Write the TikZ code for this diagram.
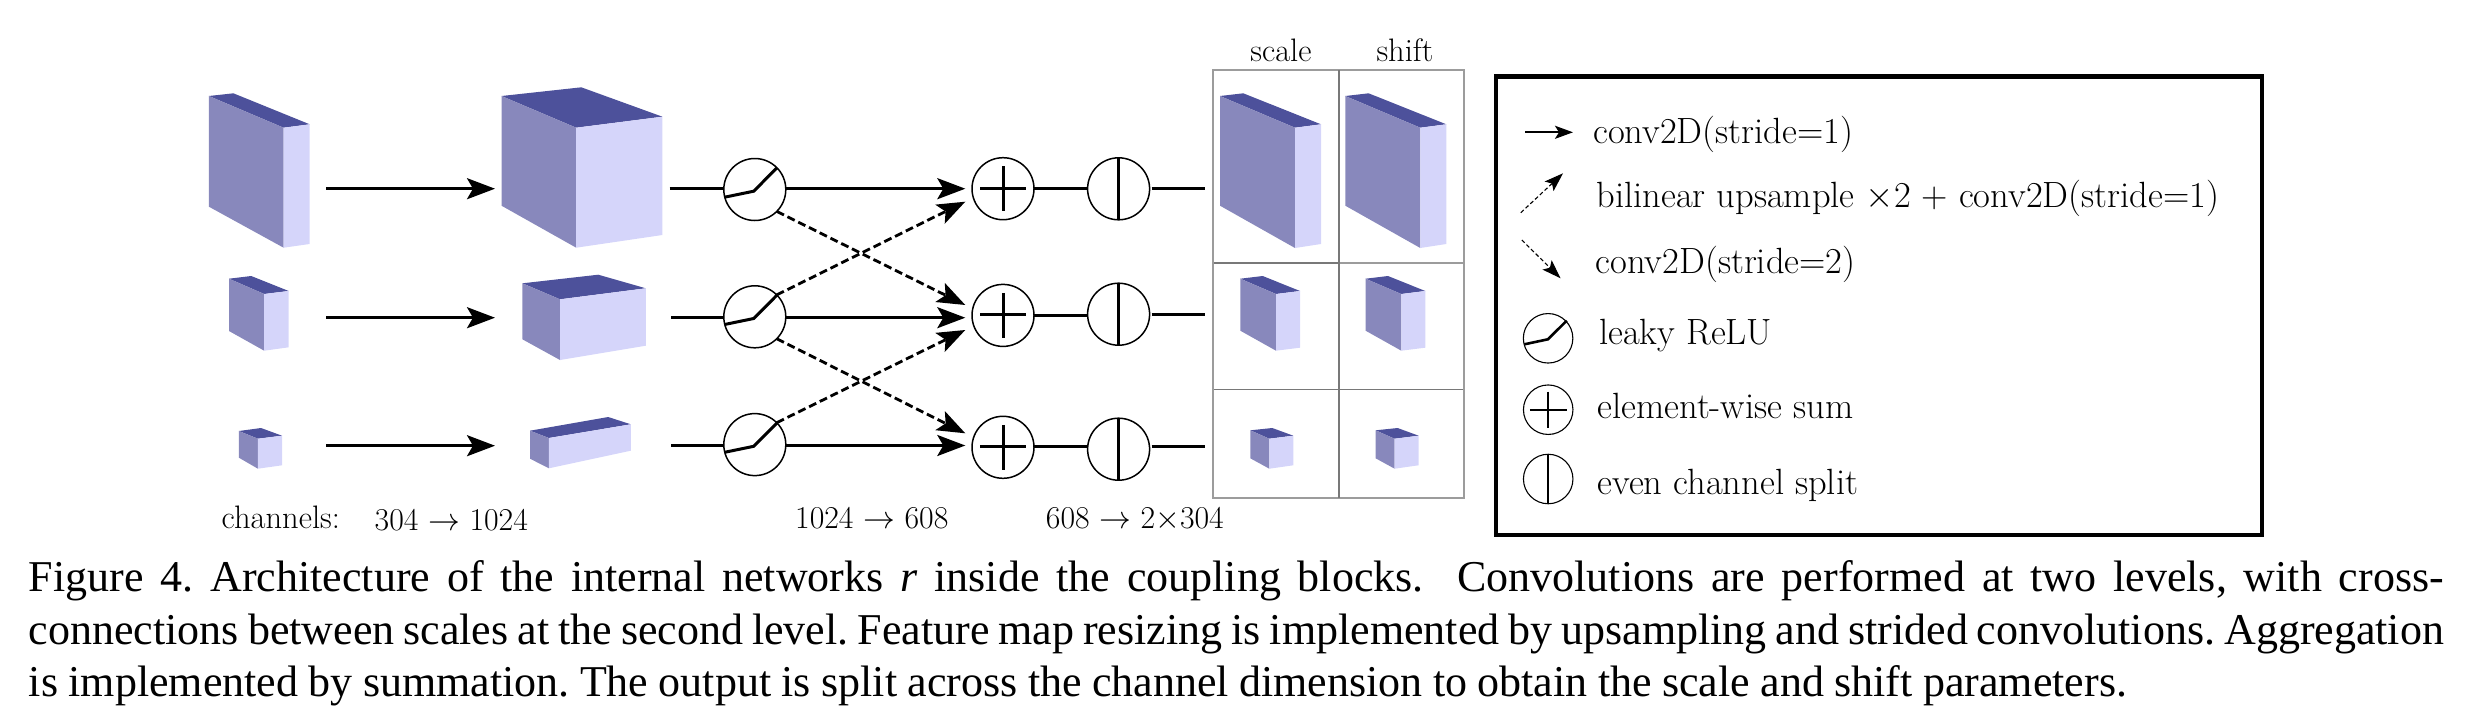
\RequirePackage{fix-cm}
\documentclass[tikz,border=0pt]{standalone}
\usepackage[no-math]{fontspec}
\usetikzlibrary{arrows.meta}
\newfontfamily\capfont{Liberation Serif}
\definecolor{cubeleft}{HTML}{8888BC}
\definecolor{cuberight}{HTML}{D5D5FA}
\definecolor{cubetop}{HTML}{4D519B}
\definecolor{gridcol}{HTML}{9C9C9C}
\definecolor{griddark}{HTML}{787878}
% A, D, C, B (top face), Abot, Bbot, Cbot
\newcommand{\cuboid}[7]{%
  \fill[cubetop] (#1) -- (#2) -- (#3) -- (#4) -- cycle;
  \fill[cubeleft] (#1) -- (#4) -- (#6) -- (#5) -- cycle;
  \fill[cuberight] (#4) -- (#3) -- (#7) -- (#6) -- cycle;
}
\newcommand{\leakyglyph}[1]{%
  \draw[glyph] ([shift={(-30.2,7.7)}]#1.center) -- ([shift={(-1.1,1.7)}]#1.center) -- ([shift={(22.2,-21.7)}]#1.center);
}
\newcommand{\plusglyph}[1]{%
  \draw[glyph] ([shift={(-22.6,-.5)}]#1.center) -- ([shift={(22.6,-.5)}]#1.center);
  \draw[glyph] ([shift={(0,-22.5)}]#1.center) -- ([shift={(0,22.5)}]#1.center);
}
\tikzset{
  opcircle/.style={circle,draw=black,line width=1.5pt,minimum size=62pt,inner sep=0pt,outer sep=0pt,fill=white},
  smallop/.style={opcircle,line width=1.1pt,minimum size=49.5pt},
  glyph/.style={line width=3pt,line join=miter},
  arr/.style={line width=2.8pt,-{Stealth[length=28pt,width=21pt,inset=6pt]}},
  darr/.style={arr,dash pattern=on 8pt off 4pt},
  plain/.style={line width=2.8pt},
  lab/.style={anchor=base west,inner sep=0pt,font=\fontsize{32.5}{38}\selectfont},
  numlab/.style={anchor=base west,inner sep=0pt,font=\fontsize{31.8}{38}\selectfont},
  leg/.style={anchor=base west,inner sep=0pt,font=\fontsize{36.5}{44}\selectfont},
  capline/.style={anchor=base west,inner sep=0pt,font=\capfont\fontsize{44}{52}\selectfont\frenchspacing},
  legarr/.style={line width=2pt,-{Stealth[length=18pt,width=13pt,inset=4pt]}},
  legdarr/.style={line width=1.1pt,dash pattern=on 4pt off 2.5pt,-{Stealth[length=19pt,width=13pt,inset=4pt]}},
}
\begin{document}
\begin{tikzpicture}[x=1pt,y=-1pt]
\useasboundingbox (0,0) rectangle (2482,726);

% --- input and hidden cuboids
\cuboid{208.9,96}{233.4,93.3}{309.7,124.3}{283.6,127.7}{208.9,206.7}{283.6,247.7}{309.7,244}
\cuboid{229,278.7}{251.2,276}{288.7,291}{264.2,294}{229,331}{264.2,350.7}{288.7,347.3}
\cuboid{238.9,431}{261,428}{282,435.7}{257.9,438.7}{238.9,457.7}{257.9,468.7}{282,465.3}
\cuboid{501.5,96}{581.3,87.3}{662.4,116.7}{576.2,127.7}{501.5,205.7}{576.2,247.7}{662.4,235}
\cuboid{522.4,283.3}{598.3,274.7}{645.8,288.3}{560,299.3}{522.4,339.3}{560,360}{645.8,345.7}
\cuboid{530,430.7}{608.2,417}{630.8,424.3}{548.9,438}{530,458.7}{548.9,468.3}{630.8,450.7}

% --- first-level arrows
\coordinate (a1s) at (326,188.7); \coordinate (a1e) at (495,188.7);
\coordinate (a2s) at (326,317.7); \coordinate (a2e) at (495,317.7);
\coordinate (a3s) at (326,445.7); \coordinate (a3e) at (495,445.7);
\draw[arr] (a1s) -- (a1e);
\draw[arr] (a2s) -- (a2e);
\draw[arr] (a3s) -- (a3e);

% --- operators
\node[opcircle] (relu1) at (754.8,189.5) {};
\node[opcircle] (relu2) at (754.8,316.8) {};
\node[opcircle] (relu3) at (754.8,444.6) {};
\node[opcircle] (sum1) at (1003,188.7) {};
\node[opcircle] (sum2) at (1003,315.4) {};
\node[opcircle] (sum3) at (1003,447.3) {};
\node[opcircle] (split1) at (1118.6,188.8) {};
\node[opcircle] (split2) at (1118.6,314.2) {};
\node[opcircle] (split3) at (1118.6,449.2) {};

\coordinate (in1) at (669.5,188.7);
\coordinate (in2) at (671,317.7);
\coordinate (in3) at (671,445.7);
\draw[plain] (in1) -- (in1 -| relu1.west);
\draw[plain] (in2) -- (in2 -| relu2.west);
\draw[plain] (in3) -- (in3 -| relu3.west);

% --- arrow tips in front of the sums
\coordinate (t1s) at (965.3,188.7);
\coordinate (t2s) at (965.3,317.7);
\coordinate (t3s) at (965.3,445.5);
\coordinate (t1u) at (965.3,201.7);
\coordinate (t2d) at (965.3,305);
\coordinate (t2u) at (965.3,330);
\coordinate (t3d) at (965.3,433.3);
\draw[arr] (t1s -| relu1.east) -- (t1s);
\draw[arr] (t2s -| relu2.east) -- (t2s);
\draw[arr] (t3s -| relu3.east) -- (t3s);
\draw[darr] (relu1.-45) -- (t2d);
\draw[darr] (relu2.45) -- (t1u);
\draw[darr] (relu2.-45) -- (t3d);
\draw[darr] (relu3.45) -- (t2u);

\leakyglyph{relu1}
\leakyglyph{relu2}
\leakyglyph{relu3}
\plusglyph{sum1}
\plusglyph{sum2}
\plusglyph{sum3}
\draw[glyph] (split1.north) -- (split1.south);
\draw[glyph] (split2.north) -- (split2.south);
\draw[glyph] (split3.north) -- (split3.south);

\draw[plain] (sum1.east) -- (sum1.east -| split1.west);
\draw[plain] (sum2.east) -- (sum2.east -| split2.west);
\coordinate (m3) at (sum3.east |- 0,446.7);
\draw[plain] (m3) -- (m3 -| split3.west);
\coordinate (o1) at (1205,188.7);
\coordinate (o2) at (1205,314.2);
\coordinate (o3) at (1205,446.7);
\draw[plain,shorten <=2pt] (o1 -| split1.east) -- (o1);
\draw[plain,shorten <=2pt] (o2 -| split2.east) -- (o2);
\draw[plain,shorten <=2pt] (o3 -| split3.east) -- (o3);

% --- output grid
\draw[griddark,line width=1.6pt] (1213.3,263) -- (1339,263);
\draw[griddark,line width=1.3pt] (1213.3,389.7) -- (1339,389.7);
\draw[gridcol,line width=1.4pt] (1339,263) -- (1464.3,263);
\draw[griddark,line width=1.2pt] (1339,389.7) -- (1464.3,389.7);
\draw[gridcol,line width=1.9pt] (1213.3,70) rectangle (1464.3,498);
\draw[griddark,line width=1.9pt] (1339,70) -- (1339,498);

\node[lab,anchor=base] (lscale) at (1281,61.7) {scale};
\node[lab,anchor=base] (lshift) at (1405,61.7) {shift};

\foreach \dx in {0,125.3}{
\begin{scope}[xshift=\dx pt]
\cuboid{1220,96}{1243.3,93.3}{1321,124.3}{1295,127.7}{1220,205.7}{1295,248}{1321,244}
\cuboid{1240.3,278.7}{1262.7,276}{1300,291}{1276,294}{1240.3,330.7}{1276,350.7}{1300,347.7}
\cuboid{1250.3,430.3}{1272.3,428}{1293.3,435.7}{1269.3,438.7}{1250.3,458.3}{1269.3,468.7}{1293.3,465.3}
\end{scope}
}

% --- channel labels
\node[lab] (lchan) at (221.5,528.3) {channels:};
\node[numlab] (lch1) at (374.5,530) {304 $\rightarrow$ 1024};
\node[numlab] (lch2) at (795,528) {1024 $\rightarrow$ 608};
\node[numlab] (lch3) at (1045.7,528) {608 $\rightarrow$ 2$\times$304};

% --- legend
\node[draw=black,line width=4.2pt,minimum width=766pt,minimum height=458.5pt,anchor=north west,inner sep=0pt,outer sep=0pt] (legbox) at (1496.3,76.4) {};
\coordinate (l1s) at (1525,132.3); \coordinate (l1e) at (1573,132.3);
\coordinate (l2s) at (1520.8,212.7); \coordinate (l2e) at (1563,173.3);
\coordinate (l3s) at (1521.8,240); \coordinate (l3e) at (1560.6,278.3);
\draw[legarr] (l1s) -- (l1e);
\draw[legdarr] (l2s) -- (l2e);
\draw[legdarr] (l3s) -- (l3e);
\node[leg] (t1) at (1593,143.5) {conv2D(stride=1)};
\node[leg] (t2) at (1596.3,207.2) {bilinear upsample $\times$2 + conv2D(stride=1)};
\node[leg] (t3) at (1595.3,273.5) {conv2D(stride=2)};
\node[smallop] (lrelu) at (1548.1,338.3) {};
\draw[line width=2.6pt] ([shift={(-23.7,6)}]lrelu.center) -- ([shift={(-.2,1)}]lrelu.center) -- ([shift={(18.6,-17.6)}]lrelu.center);
\node[leg] (t4) at (1598.9,344.8) {leaky ReLU};
\node[smallop] (lsum) at (1548.2,409.7) {};
\draw[line width=2.4pt] ([shift={(-18.4,0)}]lsum.center) -- ([shift={(18.4,0)}]lsum.center);
\draw[line width=2.4pt] ([shift={(0,-18)}]lsum.center) -- ([shift={(0,18)}]lsum.center);
\node[leg] (t5) at (1597.3,418.2) {element-wise sum};
\node[smallop] (lsplit) at (1548.2,479) {};
\draw[line width=2.4pt] (lsplit.north) -- (lsplit.south);
\node[leg] (t6) at (1597.3,494.2) {even channel split};

% --- caption
\node[capline] (c1) at (28.7,591) {\hbox to 2415pt{Figure 4. Architecture of the internal networks \textit{r} inside the coupling blocks.\ \ Convolutions are performed at two levels, with cross-}};
\node[capline] (c2) at (28.7,644) {\hbox to 2415pt{connections between scales at the second level. Feature map resizing is implemented by upsampling and strided convolutions. Aggregation}};
\node[capline] (c3) at (28.7,696.7) {\hbox to 2098pt{is implemented by summation. The output is split across the channel dimension to obtain the scale and shift parameters.}};
\end{tikzpicture}
\end{document}
